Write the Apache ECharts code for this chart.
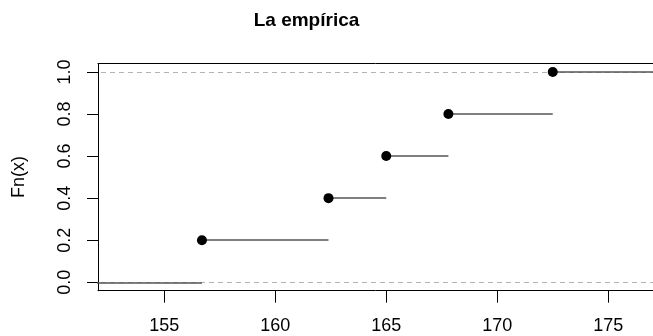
<!DOCTYPE html>
<html>
<head>
<meta charset="utf-8">
<script src="https://cdn.jsdelivr.net/npm/echarts@6/dist/echarts.min.js"></script>
<style>
html,body{margin:0;padding:0;background:#fff;}
#chart{width:653px;height:336px;}
</style>
</head>
<body>
<div id="chart"></div>
<script>
// Data
var knots = [156.7, 162.4, 165.0, 167.8, 172.5];
var fnValues = [0.2, 0.4, 0.6, 0.8, 1.0];
var xTicks = [155, 160, 165, 170, 175];
var yTicks = [0.0, 0.2, 0.4, 0.6, 0.8, 1.0];
var titleText = 'La empírica';
var yName = 'Fn(x)';

// Axis ranges (R-style: xlim extended by dr, then 4% padding)
var dr = 3.75;
var xlo = knots[0] - dr, xhi = knots[knots.length - 1] + dr;
var pad = (xhi - xlo) * 0.04;
var xMin = xlo - pad, xMaxFull = xhi + pad;
// the plot region is cut off at the right edge of the picture
var fullW = 558.7, visW = 555;
var xMax = xMin + (xMaxFull - xMin) * visW / fullW;
var yMin = -0.04, yMax = 1.04;

// Step segments
var segs = [];
segs.push({coords: [[xMin - 10, 0], [knots[0], 0]]});
for (var i = 0; i < knots.length; i++) {
  var x2 = (i < knots.length - 1) ? knots[i + 1] : xMax + 10;
  segs.push({coords: [[knots[i], fnValues[i]], [x2, fnValues[i]]]});
}
var pts = knots.map(function (k, i) { return [k, fnValues[i]]; });

var FONT = 'Liberation Sans, Arial, Helvetica, sans-serif';
var chart = echarts.init(document.getElementById('chart'), null, {renderer: 'canvas'});
chart.setOption({
  animation: false,
  backgroundColor: '#fff',
  title: {
    text: titleText,
    left: 301.5,
    top: 6,
    textAlign: 'center',
    textStyle: {fontFamily: FONT, fontWeight: 'bold', fontSize: 19, color: '#000'}
  },
  grid: {
    left: 98, top: 63.5, width: visW, height: 227.2, show: false
  },
  xAxis: [{
    type: 'value', min: xMin, max: xMax, position: 'bottom',
    splitLine: {show: false},
    axisLine: {show: true, onZero: false, lineStyle: {color: '#000', width: 1}},
    axisTick: {show: true, length: 12, inside: false, customValues: xTicks, lineStyle: {color: '#000', width: 1}},
    axisLabel: {
      customValues: xTicks, margin: 26, color: '#000', fontFamily: FONT, fontSize: 18,
      formatter: function (v) { return String(v); }
    }
  }, {
    type: 'value', min: xMin, max: xMax, position: 'top',
    splitLine: {show: false},
    axisLine: {show: true, onZero: false, lineStyle: {color: '#000', width: 1}},
    axisTick: {show: false}, axisLabel: {show: false}
  }],
  yAxis: {
    type: 'value', min: yMin, max: yMax,
    name: yName, nameLocation: 'middle', nameRotate: 90, nameGap: 70,
    nameTextStyle: {fontFamily: FONT, fontSize: 18, color: '#000'},
    splitLine: {show: false},
    axisLine: {show: true, onZero: false, lineStyle: {color: '#000', width: 1}},
    axisTick: {show: true, length: 11, inside: false, customValues: yTicks, lineStyle: {color: '#000', width: 1}},
    axisLabel: {
      customValues: yTicks, rotate: 90, margin: 24, color: '#000', fontFamily: FONT, fontSize: 18,
      formatter: function (v) { return Number(v).toFixed(1); }
    }
  },
  series: [
    {
      type: 'lines', coordinateSystem: 'cartesian2d', clip: true, silent: true,
      lineStyle: {color: '#b3b3b3', width: 1, type: [5, 4], opacity: 1},
      data: [
        {coords: [[xMin - 10, 0], [xMax + 10, 0]]},
        {coords: [[xMin - 10, 1], [xMax + 10, 1]]}
      ]
    },
    {
      type: 'lines', coordinateSystem: 'cartesian2d', clip: true, silent: true,
      lineStyle: {color: '#555', width: 1.6, opacity: 1},
      data: segs
    },
    {
      type: 'scatter', symbol: 'circle', symbolSize: 10, clip: false,
      itemStyle: {color: '#000', opacity: 1},
      data: pts
    }
  ]
});
</script>
</body>
</html>
